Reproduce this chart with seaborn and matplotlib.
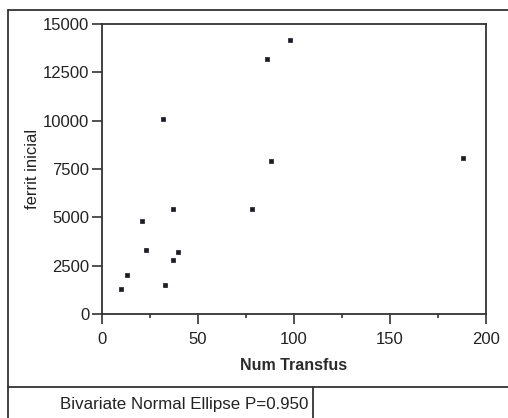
import matplotlib
matplotlib.use("Agg")
import matplotlib.pyplot as plt
import seaborn as sns
import pandas as pd
from matplotlib.lines import Line2D
from matplotlib.ticker import MultipleLocator

num_transfus = [10, 13, 21, 23, 32, 33, 37, 37, 39.5, 78, 86, 88, 98, 188]
ferrit_inicial = [1300, 2000, 4800, 3300, 10100, 1500, 2800, 5450, 3200, 5450, 13200, 7900, 14150, 8050]
x_ticks = [0, 50, 100, 150, 200]
y_ticks = [0, 2500, 5000, 7500, 10000, 12500, 15000]
x_label = "Num Transfus"
y_label = "ferrit inicial"
footer = "Bivariate Normal Ellipse P=0.950"

sns.set_style("white")
plt.rcParams['font.family'] = ['Liberation Sans', 'DejaVu Sans']

W, H = 508, 418
fig = plt.figure(figsize=(W / 100, H / 100), dpi=100)
ax = fig.add_axes([102 / W, 1 - 314 / H, 384 / W, 290 / H])

df = pd.DataFrame({"x": num_transfus, "y": ferrit_inicial})
sns.scatterplot(data=df, x="x", y="y", ax=ax, marker="s", s=10, color="#1c1c28",
                edgecolor="#1c1c28", linewidth=0.5)

ax.set_xlim(0, 200)
ax.set_ylim(0, 15000)
ax.set_xticks(x_ticks)
ax.set_yticks(y_ticks)
ax.xaxis.set_minor_locator(MultipleLocator(25))
ax.tick_params(axis="both", which="major", direction="out", length=7, width=1.2,
               color="#333333", labelsize=12, labelcolor="#222222", pad=2, bottom=True, left=True)
ax.tick_params(axis="x", which="major", pad=6)
ax.tick_params(axis="x", which="minor", direction="out", length=3, width=1.2,
               color="#333333", bottom=True)
for sp in ax.spines.values():
    sp.set_color("#333333")
    sp.set_linewidth(1.3)
ax.set_xlabel(x_label, fontsize=11.5, fontweight="bold", color="#2a2a2a", labelpad=8)
ax.set_ylabel(y_label, fontsize=12, color="#222222", labelpad=2)

# outer report frame
lc = "#333333"
fig.add_artist(Line2D([8 / W, 8 / W], [0, 1 - 10 / H], transform=fig.transFigure, color=lc, lw=1.3))
fig.add_artist(Line2D([8 / W, 1], [1 - 10 / H, 1 - 10 / H], transform=fig.transFigure, color=lc, lw=1.3))
fig.add_artist(Line2D([8 / W, 1], [1 - 387 / H, 1 - 387 / H], transform=fig.transFigure, color=lc, lw=1.3))
fig.add_artist(Line2D([312.5 / W, 312.5 / W], [0, 1 - 387 / H], transform=fig.transFigure, color=lc, lw=1.3))
fig.text(60 / W, 1 - 404 / H, footer, fontsize=12.2, color="#222222", va="center", ha="left")

fig.savefig("out.png", dpi=100)
